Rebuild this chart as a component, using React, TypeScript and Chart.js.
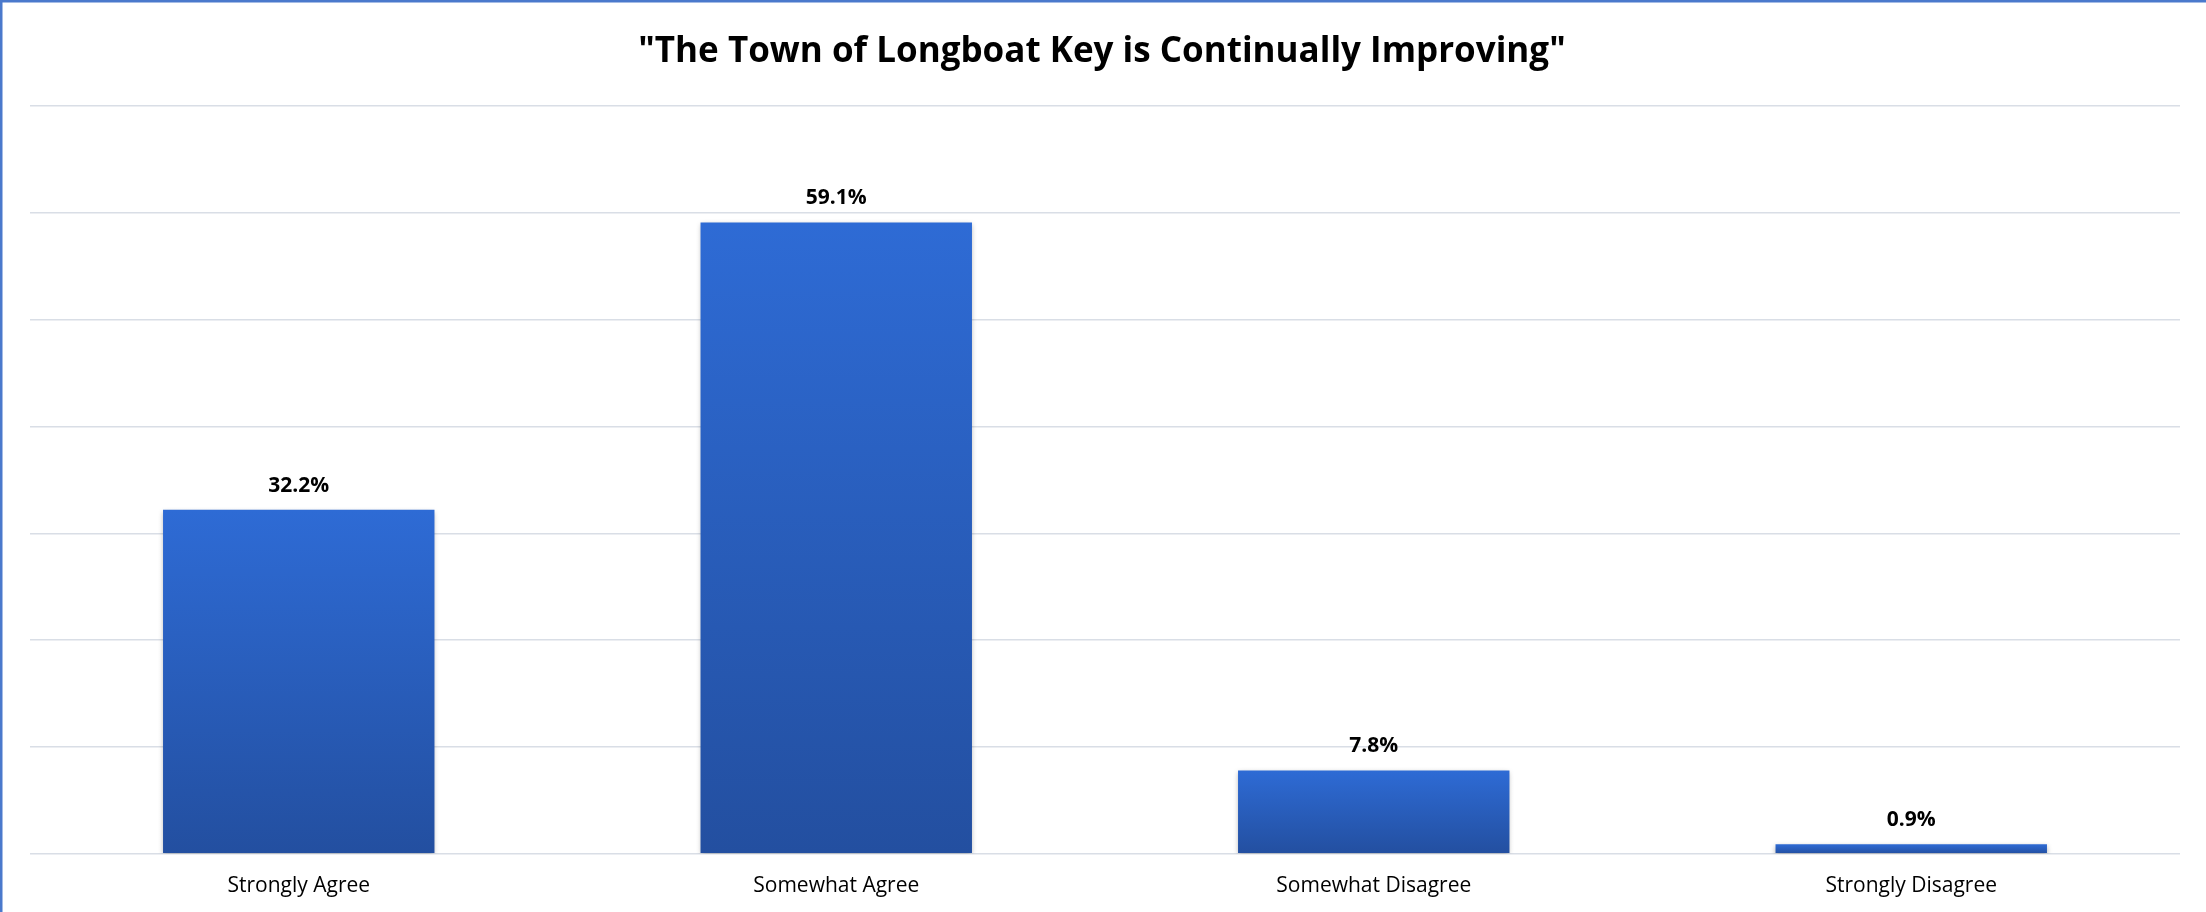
import React, { useEffect, useRef } from "react";
import { Chart, registerables } from "chart.js";

Chart.register(...registerables);

const TITLE = '"The Town of Longboat Key is Continually Improving"';
const categories = ["Strongly Agree", "Somewhat Agree", "Somewhat Disagree", "Strongly Disagree"];
const values = [32.2, 59.1, 7.8, 0.9];
const yMin = 0;
const yMax = 70;
const yStep = 10;

const W = 2206;
const H = 912;

const decorPlugin = {
  id: "decor",
  beforeDraw(chart: any) {
    const c = chart.ctx;
    c.save();
    c.fillStyle = "#ffffff";
    c.fillRect(0, 0, chart.width, chart.height);
    c.restore();
  },
  beforeDatasetsDraw(chart: any) {
    const c = chart.ctx;
    c.save();
    c.shadowColor = "rgba(0,0,0,0.32)";
    c.shadowBlur = 5;
    c.shadowOffsetX = 0;
    c.shadowOffsetY = 2;
  },
  afterDatasetsDraw(chart: any) {
    const c = chart.ctx;
    c.restore();
    const meta = chart.getDatasetMeta(0);
    c.save();
    c.fillStyle = "#000000";
    c.font = "bold 21px 'Open Sans'";
    c.textAlign = "center";
    c.textBaseline = "alphabetic";
    meta.data.forEach((el: any, i: number) => {
      c.fillText(values[i].toFixed(1) + "%", el.x, el.y - 18);
    });
    c.restore();
  },
  afterDraw(chart: any) {
    const c = chart.ctx;
    c.save();
    c.fillStyle = "#000000";
    c.font = "bold 35px 'Open Sans'";
    c.textAlign = "center";
    c.textBaseline = "alphabetic";
    c.fillText(TITLE, 1102, 62);
    c.fillStyle = "#4A79CC";
    c.fillRect(0, 0, chart.width, 2.5);
    c.fillRect(0, 0, 2.5, chart.height);
    c.restore();
  },
};

export default function App() {
  const ref = useRef<HTMLCanvasElement | null>(null);
  useEffect(() => {
    if (!ref.current) return;
    const chart = new Chart(ref.current, {
      type: "bar",
      data: {
        labels: categories,
        datasets: [
          {
            data: values,
            backgroundColor: (ctx: any) => {
              const ch = ctx.chart;
              const y = ch.scales && ch.scales.y;
              if (!y || ctx.type !== "data") return "#2A5FC0";
              const top = y.getPixelForValue(ctx.raw as number);
              const base = y.getPixelForValue(0);
              if (!isFinite(top) || !isFinite(base) || top === base) return "#2A5FC0";
              const g = ch.ctx.createLinearGradient(0, top, 0, base);
              g.addColorStop(0, "#2E6BD5");
              g.addColorStop(1, "#234FA0");
              return g;
            },
            borderWidth: 0,
            categoryPercentage: 1,
            barPercentage: 0.505,
          },
        ],
      },
      options: {
        responsive: false,
        animation: false,
        events: [],
        layout: { padding: { left: 30, right: 26, top: 106, bottom: -7 } },
        plugins: {
          legend: { display: false },
          title: { display: false },
          tooltip: { enabled: false },
        },
        scales: {
          x: {
            grid: { display: false, drawTicks: false },
            border: { display: false },
            ticks: {
              color: "#000000",
              font: { family: "'Open Sans'", size: 21 },
              padding: 20,
              maxRotation: 0,
              autoSkip: false,
            },
          },
          y: {
            min: yMin,
            max: yMax,
            grid: { color: "#D9DEE6", lineWidth: 1.5, drawTicks: false },
            border: { display: false },
            ticks: { display: false, stepSize: yStep },
          },
        },
      },
      plugins: [decorPlugin],
    });
    return () => chart.destroy();
  }, []);
  return (
    <canvas
      ref={ref}
      width={W}
      height={H}
      style={{ position: "absolute", left: 0, top: 0, display: "block", width: W, height: H }}
    />
  );
}
